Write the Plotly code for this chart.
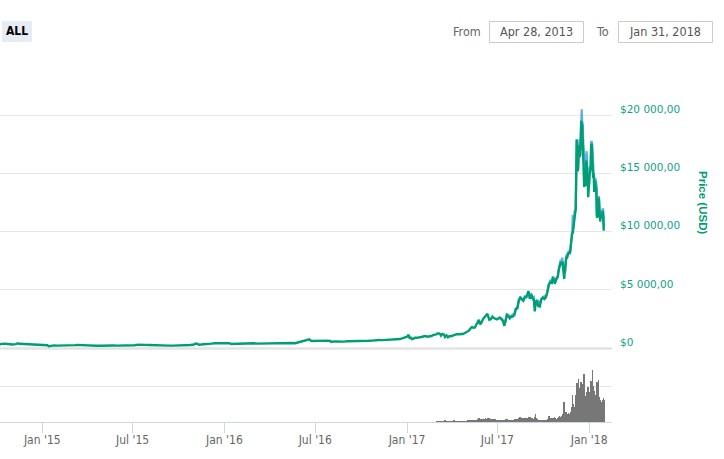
import plotly.graph_objects as go
import pandas as pd

W, H = 724, 459

# ---------------- data ----------------
price_dates = [
    "2014-10-05", "2014-10-08", "2014-10-12", "2014-10-19", "2014-10-26", "2014-11-02", "2014-11-09",
    "2014-11-13", "2014-11-16", "2014-11-23", "2014-11-30", "2014-12-07", "2014-12-14", "2014-12-21",
    "2014-12-28",
    "2015-01-04", "2015-01-11", "2015-01-14", "2015-01-18", "2015-01-25", "2015-02-01", "2015-02-08",
    "2015-02-15", "2015-02-22", "2015-03-01", "2015-03-08", "2015-03-12", "2015-03-15", "2015-03-22",
    "2015-03-29", "2015-04-05", "2015-04-12", "2015-04-19", "2015-04-26", "2015-05-03", "2015-05-10",
    "2015-05-17", "2015-05-24", "2015-05-31", "2015-06-07", "2015-06-14", "2015-06-21", "2015-06-28",
    "2015-07-05", "2015-07-12", "2015-07-19", "2015-07-26", "2015-08-02", "2015-08-09", "2015-08-16",
    "2015-08-19", "2015-08-23", "2015-08-30", "2015-09-06", "2015-09-13", "2015-09-20", "2015-09-27",
    "2015-10-04", "2015-10-11", "2015-10-18", "2015-10-25", "2015-11-01", "2015-11-04", "2015-11-08",
    "2015-11-11", "2015-11-15", "2015-11-22", "2015-11-29", "2015-12-06", "2015-12-13", "2015-12-20",
    "2015-12-27",
    "2016-01-03", "2016-01-10", "2016-01-15", "2016-01-17", "2016-01-24", "2016-01-31", "2016-02-07",
    "2016-02-14", "2016-02-21", "2016-02-28", "2016-03-06", "2016-03-13", "2016-03-20", "2016-03-27",
    "2016-04-03", "2016-04-10", "2016-04-17", "2016-04-24", "2016-05-01", "2016-05-08", "2016-05-15",
    "2016-05-22", "2016-05-29", "2016-06-05", "2016-06-12", "2016-06-16", "2016-06-19", "2016-06-23",
    "2016-06-26", "2016-07-03", "2016-07-10", "2016-07-17", "2016-07-24", "2016-07-31", "2016-08-02",
    "2016-08-07", "2016-08-14", "2016-08-21", "2016-08-28", "2016-09-04", "2016-09-11", "2016-09-18",
    "2016-09-25", "2016-10-02", "2016-10-09", "2016-10-16", "2016-10-23", "2016-10-30", "2016-11-06",
    "2016-11-13", "2016-11-20", "2016-11-27", "2016-12-04", "2016-12-11", "2016-12-18", "2016-12-25",
    "2016-12-31",
    "2017-01-01", "2017-01-04", "2017-01-06", "2017-01-09", "2017-01-11", "2017-01-14", "2017-01-17",
    "2017-01-20", "2017-01-23", "2017-01-26", "2017-01-29", "2017-02-01", "2017-02-04", "2017-02-07",
    "2017-02-10", "2017-02-13", "2017-02-16", "2017-02-19", "2017-02-22", "2017-02-25", "2017-02-28",
    "2017-03-03", "2017-03-06", "2017-03-09", "2017-03-10", "2017-03-13", "2017-03-16", "2017-03-18",
    "2017-03-21", "2017-03-24", "2017-03-27", "2017-03-30", "2017-04-02", "2017-04-05", "2017-04-08",
    "2017-04-11", "2017-04-14", "2017-04-17", "2017-04-20", "2017-04-23", "2017-04-26", "2017-04-29",
    "2017-05-02", "2017-05-05", "2017-05-08", "2017-05-11", "2017-05-14", "2017-05-17", "2017-05-20",
    "2017-05-23", "2017-05-25", "2017-05-27", "2017-05-30", "2017-06-02", "2017-06-05", "2017-06-08",
    "2017-06-11", "2017-06-13", "2017-06-15", "2017-06-18", "2017-06-21", "2017-06-24", "2017-06-27",
    "2017-06-30", "2017-07-03", "2017-07-06", "2017-07-09", "2017-07-12", "2017-07-15", "2017-07-17",
    "2017-07-20", "2017-07-23", "2017-07-26", "2017-07-29", "2017-08-01", "2017-08-04", "2017-08-07",
    "2017-08-10", "2017-08-13", "2017-08-16", "2017-08-19", "2017-08-22", "2017-08-25", "2017-08-28",
    "2017-08-31", "2017-09-01", "2017-09-04", "2017-09-07", "2017-09-10", "2017-09-12", "2017-09-14",
    "2017-09-15", "2017-09-18", "2017-09-21", "2017-09-24", "2017-09-27", "2017-09-30", "2017-10-03",
    "2017-10-06", "2017-10-09", "2017-10-12", "2017-10-15", "2017-10-18", "2017-10-20", "2017-10-22",
    "2017-10-24", "2017-10-27", "2017-10-30",
    "2017-11-01", "2017-11-03", "2017-11-05", "2017-11-07", "2017-11-08", "2017-11-09", "2017-11-10",
    "2017-11-11", "2017-11-12", "2017-11-13", "2017-11-14", "2017-11-15", "2017-11-16", "2017-11-17",
    "2017-11-18", "2017-11-19", "2017-11-20", "2017-11-21", "2017-11-22", "2017-11-23", "2017-11-24",
    "2017-11-25", "2017-11-26", "2017-11-27", "2017-11-28", "2017-11-29", "2017-11-30",
    "2017-12-01", "2017-12-02", "2017-12-03", "2017-12-04", "2017-12-05", "2017-12-06", "2017-12-07",
    "2017-12-08", "2017-12-09", "2017-12-10", "2017-12-11", "2017-12-12", "2017-12-13", "2017-12-14",
    "2017-12-15", "2017-12-16", "2017-12-17", "2017-12-18", "2017-12-19", "2017-12-20", "2017-12-21",
    "2017-12-22", "2017-12-23", "2017-12-24", "2017-12-25", "2017-12-26", "2017-12-27", "2017-12-28",
    "2017-12-29", "2017-12-30", "2017-12-31",
    "2018-01-01", "2018-01-02", "2018-01-03", "2018-01-04", "2018-01-05", "2018-01-06", "2018-01-07",
    "2018-01-08", "2018-01-09", "2018-01-10", "2018-01-11", "2018-01-12", "2018-01-13", "2018-01-14",
    "2018-01-15", "2018-01-16", "2018-01-17", "2018-01-18", "2018-01-19", "2018-01-20", "2018-01-21",
    "2018-01-22", "2018-01-23", "2018-01-24", "2018-01-25", "2018-01-26", "2018-01-27", "2018-01-28",
    "2018-01-29", "2018-01-30", "2018-01-31",
]
price_close = [
    320, 352, 378, 390, 354, 325, 362,
    423, 387, 366, 378, 375, 348, 330,
    317,
    274, 265, 178, 210, 253, 226, 224,
    234, 235, 260, 275, 295, 285, 268,
    243, 260, 236, 222, 219, 240, 240,
    236, 240, 230, 225, 234, 244, 250,
    260, 310, 273, 292, 281, 265, 258,
    226, 228, 228, 240, 230, 231, 232,
    238, 247, 262, 285, 325, 403, 373,
    311, 320, 324, 371, 396, 435, 441,
    422,
    431, 447, 375, 380, 402, 369, 376,
    407, 438, 433, 404, 414, 411, 417,
    420, 420, 429, 460, 451, 458, 457,
    440, 525, 574, 675, 766, 763, 625,
    629, 655, 648, 679, 661, 625, 547,
    592, 570, 581, 573, 610, 607, 611,
    603, 610, 619, 641, 657, 697, 711,
    703, 730, 730, 765, 770, 791, 890,
    964,
    998, 1154, 894, 903, 785, 818, 908,
    899, 922, 917, 914, 989, 1032, 1061,
    997, 997, 1041, 1056, 1125, 1151, 1190,
    1276, 1278, 1193, 1098, 1238, 1172, 971,
    1115, 939, 1047, 1037, 1098, 1134, 1180,
    1207, 1180, 1207, 1238, 1231, 1290, 1347,
    1452, 1508, 1700, 1820, 1772, 1799, 2042,
    2255, 2446, 2053, 2192, 2488, 2698, 2805,
    2958, 2716, 2444, 2508, 2712, 2589, 2566,
    2480, 2561, 2608, 2500, 2375, 1929, 2232,
    2867, 2755, 2566, 2721, 2718, 2856, 3378,
    3425, 4073, 4331, 4160, 4087, 4367, 4382,
    4703, 4892, 4236, 4611, 4229, 4165, 3154,
    3638, 4100, 3631, 3586, 4202, 4338, 4229,
    4370, 4778, 5432, 5678, 5605, 6006, 5930,
    5526, 5894, 6130,
    6737, 7207, 7389, 7144, 7459, 7143, 6619,
    6357, 5951, 6559, 6635, 7316, 7871, 7708,
    7790, 8036, 8200, 8072, 8254, 8091, 8250,
    8758, 9318, 9734, 9906, 9837, 10233,
    10975, 11075, 11323, 11657, 11916, 14291, 17899,
    16570, 15178, 15455, 16937, 17415, 16408, 16564,
    17706, 19497, 19140, 19114, 17776, 16624, 15802,
    13831, 14700, 13926, 14027, 16099, 15838, 14606,
    14656, 12952, 14157,
    13657, 14982, 15201, 15599, 17429, 17527, 16477,
    15170, 14595, 14973, 13405, 13980, 14360, 13772,
    13819, 11490, 11188, 11474, 11607, 12899, 11600,
    10931, 10868, 11359, 11259, 11171, 11440, 11786,
    11296, 10106, 10221,
]

high_dates = [
    "2017-07-03", "2017-07-06", "2017-07-09", "2017-07-12", "2017-07-15", "2017-07-17", "2017-07-20",
    "2017-07-23", "2017-07-26", "2017-07-29", "2017-08-01", "2017-08-04", "2017-08-07", "2017-08-10",
    "2017-08-13", "2017-08-16", "2017-08-19", "2017-08-22", "2017-08-25", "2017-08-28", "2017-08-31",
    "2017-09-01", "2017-09-04", "2017-09-07", "2017-09-10", "2017-09-12", "2017-09-14", "2017-09-15",
    "2017-09-18", "2017-09-21", "2017-09-24", "2017-09-27", "2017-09-30", "2017-10-03", "2017-10-06",
    "2017-10-09", "2017-10-12", "2017-10-15", "2017-10-18", "2017-10-20", "2017-10-22", "2017-10-24",
    "2017-10-27", "2017-10-30",
    "2017-11-01", "2017-11-03", "2017-11-05", "2017-11-07", "2017-11-08", "2017-11-09", "2017-11-10",
    "2017-11-11", "2017-11-12", "2017-11-13", "2017-11-14", "2017-11-15", "2017-11-16", "2017-11-17",
    "2017-11-18", "2017-11-19", "2017-11-20", "2017-11-21", "2017-11-22", "2017-11-23", "2017-11-24",
    "2017-11-25", "2017-11-26", "2017-11-27", "2017-11-28", "2017-11-29", "2017-11-30",
    "2017-12-01", "2017-12-02", "2017-12-03", "2017-12-04", "2017-12-05", "2017-12-06", "2017-12-07",
    "2017-12-08", "2017-12-09", "2017-12-10", "2017-12-11", "2017-12-12", "2017-12-13", "2017-12-14",
    "2017-12-15", "2017-12-16", "2017-12-17", "2017-12-18", "2017-12-19", "2017-12-20", "2017-12-21",
    "2017-12-22", "2017-12-23", "2017-12-24", "2017-12-25", "2017-12-26", "2017-12-27", "2017-12-28",
    "2017-12-29", "2017-12-30", "2017-12-31",
    "2018-01-01", "2018-01-02", "2018-01-03", "2018-01-04", "2018-01-05", "2018-01-06", "2018-01-07",
    "2018-01-08", "2018-01-09", "2018-01-10", "2018-01-11", "2018-01-12", "2018-01-13", "2018-01-14",
    "2018-01-15", "2018-01-16", "2018-01-17", "2018-01-18", "2018-01-19", "2018-01-20", "2018-01-21",
    "2018-01-22", "2018-01-23", "2018-01-24", "2018-01-25", "2018-01-26", "2018-01-27", "2018-01-28",
    "2018-01-29", "2018-01-30", "2018-01-31",
]
price_high = [
    2610, 2640, 2560, 2410, 2200, 2240, 2900,
    2860, 2620, 2760, 2900, 2880, 3400, 3460,
    4210, 4380, 4200, 4120, 4450, 4400, 4740,
    4910, 4590, 4660, 4320, 4390, 3920, 3750,
    4120, 4070, 3790, 4210, 4360, 4470, 4400,
    4800, 5450, 5780, 5620, 6070, 6080, 5890,
    5980, 6210,
    6740, 7370, 7600, 7200, 7776, 7450, 7230,
    6780, 6400, 6880, 6700, 7330, 7960, 8100,
    7850, 8100, 8270, 8370, 8300, 8270, 8400,
    8780, 9520, 9730, 10030, 11430, 10280,
    11000, 11100, 11850, 11660, 12030, 14370, 17900,
    17300, 16280, 15800, 17400, 17570, 17900, 16890,
    18030, 19720, 20500, 19420, 19300, 17800, 17200,
    15950, 15450, 14600, 14480, 16350, 16900, 15750,
    15400, 14900, 14240,
    14050, 15400, 15570, 15740, 17700, 17710, 17580,
    16480, 15450, 15000, 14800, 14150, 14600, 14500,
    14260, 13840, 11680, 12100, 11800, 13050, 12880,
    11850, 11200, 11470, 11800, 11640, 11620, 12000,
    11880, 11350, 10350,
]

# daily 24h volume (billions USD), one list per month
vol_2017_03 = [0.1, 0.1, 0.12, 0.1, 0.08, 0.1, 0.1, 0.12, 0.12, 0.15, 0.08, 0.08, 0.1, 0.08, 0.1, 0.12,
               0.15, 0.7, 0.2, 0.12, 0.12, 0.1, 0.1, 0.15, 0.12, 0.1, 0.1, 0.08, 0.1, 0.1, 0.1]
vol_2017_04 = [0.1, 0.1, 0.15, 0.12, 0.7, 0.12, 0.1, 0.08, 0.08, 0.1, 0.1, 0.1, 0.1, 0.1, 0.08,
               0.08, 0.1, 0.1, 0.1, 0.12, 0.12, 0.12, 0.1, 0.12, 0.15, 0.15, 0.2, 0.18, 0.2, 0.2]
vol_2017_05 = [0.3, 0.6, 0.7, 0.8, 0.7, 0.6, 0.5, 0.7, 0.8, 0.9, 1.0, 1.1, 0.7, 0.6, 0.9, 0.8,
               0.9, 1.0, 1.1, 1.0, 1.0, 1.4, 1.7, 1.9, 2.1, 1.9, 1.8, 1.3, 1.2, 1.5, 1.4]
vol_2017_06 = [1.3, 1.4, 1.5, 1.2, 1.6, 1.9, 2.1, 1.7, 1.4, 1.6, 1.5, 2.1, 2.0, 1.9, 2.2,
               1.6, 1.3, 1.4, 1.2, 1.5, 1.7, 1.4, 1.2, 1.1, 1.2, 1.4, 1.5, 1.3, 1.2, 1.0]
vol_2017_07 = [0.8, 0.7, 0.8, 0.9, 0.8, 0.7, 0.8, 0.6, 0.5, 0.7, 0.9, 1.0, 0.8, 0.7, 0.8, 1.0,
               1.3, 1.5, 1.4, 1.6, 1.3, 0.9, 0.7, 0.8, 0.9, 1.0, 0.9, 1.1, 0.8, 0.7, 0.9]
vol_2017_08 = [1.2, 1.1, 1.0, 1.1, 1.4, 1.3, 1.5, 1.8, 1.9, 1.5, 1.7, 2.1, 2.3, 2.5, 2.8, 2.2,
               1.9, 2.2, 2.0, 1.7, 1.9, 2.3, 2.0, 1.9, 2.0, 1.7, 1.3, 1.6, 2.0, 1.8, 2.1]
vol_2017_09 = [2.3, 2.7, 1.9, 2.9, 2.4, 1.9, 1.8, 2.1, 1.4, 1.2, 1.5, 1.6, 1.8, 2.8, 4.3,
               2.2, 1.3, 1.6, 1.2, 1.1, 1.3, 1.2, 0.9, 0.8, 1.0, 1.0, 1.1, 1.3, 1.2, 1.0]
vol_2017_10 = [1.0, 1.1, 1.2, 1.0, 1.1, 0.9, 0.9, 1.2, 1.5, 1.6, 1.8, 3.3, 2.9, 2.1, 2.4, 2.0,
               1.7, 1.9, 2.0, 2.2, 1.9, 2.4, 2.7, 2.5, 2.1, 1.9, 1.8, 1.6, 2.3, 2.2, 2.4]
vol_2017_11 = [3.0, 3.6, 3.4, 2.8, 2.7, 2.9, 3.1, 4.5, 3.8, 4.6, 4.2, 11.0, 6.9, 4.1, 4.8,
               5.4, 4.9, 4.0, 4.2, 4.6, 5.0, 4.1, 4.3, 4.7, 5.1, 5.6, 8.2, 7.4, 15.0, 9.8]
vol_2017_12 = [8.4, 7.6, 8.5, 8.2, 12.0, 14.8, 19.5, 21.8, 13.8, 13.1, 24.0, 16.5, 18.8, 14.9, 16.2,
               22.5, 16.0, 14.9, 21.3, 19.6, 18.1, 26.9, 17.0, 13.8, 11.2, 14.3, 16.8, 15.8, 16.9,
               19.4, 12.6]
vol_2018_01 = [10.7, 16.6, 16.5, 20.6, 22.9, 18.5, 15.9, 29.0, 16.7, 20.2, 17.4, 15.0, 14.3, 14.8,
               13.6, 19.3, 22.1, 17.8, 12.6, 23.5, 13.7, 11.1, 10.9, 12.3, 10.6, 11.2, 10.7, 11.3,
               12.2, 13.5, 12.4]
vol_month_starts = ["2017-03-01", "2017-04-01", "2017-05-01", "2017-06-01", "2017-07-01", "2017-08-01",
                    "2017-09-01", "2017-10-01", "2017-11-01", "2017-12-01", "2018-01-01"]

x_tick_dates = ["2015-01-01", "2015-07-01", "2016-01-01", "2016-07-01", "2017-01-01", "2017-07-01",
                "2018-01-01"]
x_tick_labels = ["Jan '15", "Jul '15", "Jan '16", "Jul '16", "Jan '17", "Jul '17", "Jan '18"]
y_tick_vals = [0, 5000, 10000, 15000, 20000, 25000]
y_tick_labels = ["$0", "$5 000,00", "$10 000,00", "$15 000,00", "$20 000,00", ""]

# ---------------- build ----------------
vol_lists = [vol_2017_03, vol_2017_04, vol_2017_05, vol_2017_06, vol_2017_07, vol_2017_08,
             vol_2017_09, vol_2017_10, vol_2017_11, vol_2017_12, vol_2018_01]
vol_dates, vol_values = [], []
for start, vals in zip(vol_month_starts, vol_lists):
    vol_dates += list(pd.date_range(start, periods=len(vals), freq="D"))
    vol_values += vals


def px(x):
    return x / W


def py(y):
    return 1 - y / H


X_RANGE = ["2014-10-08 05:30", "2018-02-15 17:00"]
XDOM = [0, px(612)]
GREEN = "#009e73"
BLUE = "#5eaee8"
NARROW = "Liberation Sans Narrow, DejaVu Sans Condensed, Arial Narrow, sans-serif"

fig = go.Figure()
fig.add_trace(go.Scatter(x=high_dates, y=price_high, mode="lines", line=dict(color=BLUE, width=2.2),
                         xaxis="x", yaxis="y", showlegend=False, hoverinfo="skip"))
fig.add_trace(go.Scatter(x=price_dates, y=price_close, mode="lines", line=dict(color=GREEN, width=2.4),
                         xaxis="x", yaxis="y", showlegend=False, name="Price (USD)"))
fig.add_trace(go.Bar(x=vol_dates, y=vol_values, marker=dict(color="#777777", line=dict(width=0)),
                     xaxis="x2", yaxis="y2", showlegend=False, name="24h Vol"))

fig.update_layout(
    width=W, height=H, autosize=False,
    margin=dict(l=0, r=0, t=0, b=0, pad=0, autoexpand=False),
    paper_bgcolor="white", plot_bgcolor="white",
    bargap=0,
    showlegend=False,
    xaxis=dict(domain=XDOM, range=X_RANGE, type="date", anchor="y", showticklabels=False,
               showgrid=False, zeroline=False, showline=False, ticks="", automargin=False),
    xaxis2=dict(domain=XDOM, range=X_RANGE, type="date", anchor="y2", matches="x",
                tickvals=x_tick_dates, ticktext=x_tick_labels, ticks="outside", ticklen=10,
                tickcolor="#ccd6eb", tickwidth=1, showline=True, linecolor="#ccd6eb", linewidth=1,
                showgrid=False, zeroline=False, automargin=False, ticklabelstandoff=-3,
                tickfont=dict(family=NARROW, size=12, color="#666666")),
    yaxis=dict(domain=[py(348.3), py(56.7)], range=[0, 25000], side="right", anchor="x",
               tickvals=y_tick_vals, ticktext=y_tick_labels, showgrid=True, gridcolor="#e6e6e6",
               gridwidth=1, zeroline=False, showline=False, ticks="", automargin=False,
               ticklabelstandoff=7, ticklabelshift=-6,
               tickfont=dict(family="DejaVu Sans, Verdana, sans-serif", size=10.5, color="#119f86")),
    yaxis2=dict(domain=[py(422), py(350)], range=[0, 40], anchor="x2", side="right",
                tickvals=[20], showticklabels=False, showgrid=True, gridcolor="#e6e6e6",
                zeroline=False, showline=False, ticks="", automargin=False),
)

shapes = [
    # separator / zero line of price pane
    dict(type="line", xref="paper", yref="paper", x0=0, x1=px(612), y0=py(348.5), y1=py(348.5),
         line=dict(color="#e3e3e3", width=2.5), layer="below"),
    # ALL button
    dict(type="rect", xref="paper", yref="paper", x0=px(2), x1=px(32), y0=py(42), y1=py(21),
         fillcolor="#e6ebf5", line=dict(width=0), layer="below"),
    # date input boxes
    dict(type="rect", xref="paper", yref="paper", x0=px(489.5), x1=px(583.5), y0=py(42.5), y1=py(21.5),
         fillcolor="white", line=dict(color="#cccccc", width=1)),
    dict(type="rect", xref="paper", yref="paper", x0=px(618.5), x1=px(712.5), y0=py(42.5), y1=py(21.5),
         fillcolor="white", line=dict(color="#cccccc", width=1)),
]
fig.update_layout(shapes=shapes)

ann = [
    dict(text="ALL", x=px(17), y=py(31.5), font=dict(family=NARROW, size=12, color="#000000", weight="bold")),
    dict(text="From", x=px(467), y=py(31.5), font=dict(family=NARROW, size=12.5, color="#666666")),
    dict(text="Apr 28, 2013", x=px(536), y=py(31.5), font=dict(family=NARROW, size=12.5, color="#555555")),
    dict(text="To", x=px(602), y=py(31.5), font=dict(family=NARROW, size=12.5, color="#666666")),
    dict(text="Jan 31, 2018", x=px(665), y=py(31.5), font=dict(family=NARROW, size=12.5, color="#555555")),
    dict(text="Price (USD)", x=px(703), y=py(202), textangle=90,
         font=dict(family="Liberation Sans, Arial, sans-serif", size=11.5, color=GREEN, weight="bold")),
]
for a in ann:
    a.update(xref="paper", yref="paper", showarrow=False, xanchor="center", yanchor="middle")
fig.update_layout(annotations=ann)

fig.write_html("out.html", config={"displayModeBar": False})
